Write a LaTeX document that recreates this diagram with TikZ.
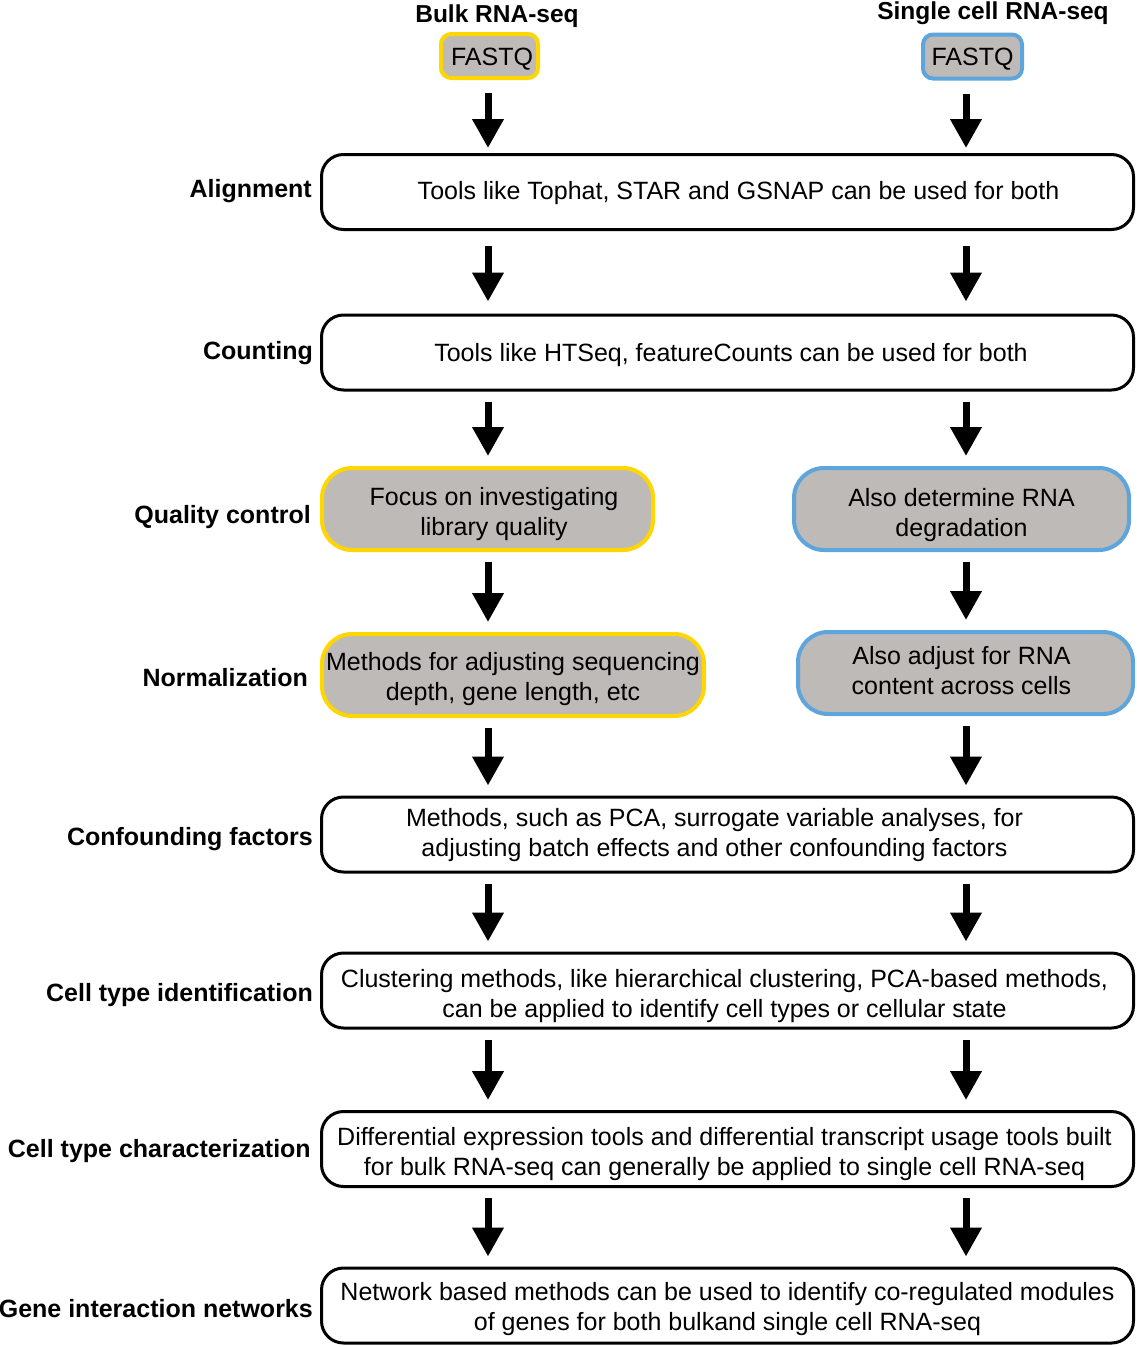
\documentclass[tikz,border=0pt]{standalone}
\usepackage{fontspec}
\setmainfont{Liberation Sans}
\usetikzlibrary{arrows.meta,calc}
\definecolor{boxgray}{RGB}{190,186,184}
\definecolor{bulkyellow}{RGB}{255,214,0}
\definecolor{scblue}{RGB}{93,165,218}
% #1 = horizontal offset (twice the visual shift), #2 = vertical shift, #3 = lines
\newcommand{\boxtext}[3]{\raisebox{#2}[\height][\depth]{\hspace*{#1}\begin{tabular}{@{}c@{}}#3\end{tabular}}}
\begin{document}
\begin{tikzpicture}[x=1pt,y=-1pt,
  every node/.style={font=\fontsize{25}{30}\selectfont},
  mainbox/.style={draw=black,line width=3pt,rounded corners=22pt,minimum width=812pt,minimum height=75pt,align=center,inner sep=0pt},
  bulkbox/.style={draw=bulkyellow,fill=boxgray,line width=4pt,rounded corners=30pt,minimum height=82pt,align=center,inner sep=0pt},
  scbox/.style={draw=scblue,fill=boxgray,line width=4pt,rounded corners=30pt,minimum height=82pt,align=center,inner sep=0pt},
  fastq/.style={fill=boxgray,line width=4pt,rounded corners=10pt,minimum height=44pt,inner sep=0pt},
  steplabel/.style={anchor=east,font=\fontsize{25}{30}\selectfont\bfseries,inner sep=0pt},
  coltitle/.style={font=\fontsize{24.5}{30}\selectfont\bfseries,inner sep=0pt},
  arr/.style={line width=7pt,-{Triangle[width=30pt,length=29pt]},shorten <=10pt,shorten >=10pt}
]
\useasboundingbox (0,0) rectangle (1137,1347);
\coordinate (colL) at (488,0);
\coordinate (colR) at (966,0);

% column titles
\node[coltitle] (tL) at (497,16) {Bulk RNA-seq};
\node[coltitle] (tR) at (993,13) {Single cell RNA-seq};

% FASTQ
\node[fastq,draw=bulkyellow,minimum width=97pt] (fqL) at (489.5,56) {\boxtext{5pt}{-3pt}{FASTQ}};
\node[fastq,draw=scblue,minimum width=99pt] (fqR) at (972.5,56.5) {\boxtext{0pt}{-3pt}{FASTQ}};

% main boxes
\node[mainbox] (align) at (727.5,192) {\boxtext{22pt}{-1pt}{Tools like Tophat, STAR and GSNAP can be used for both}};
\node[mainbox] (count) at (727.5,352.5) {\boxtext{7pt}{-3pt}{Tools like HTSeq, featureCounts can be used for both}};
\node[bulkbox,minimum width=331pt] (qcL) at (487.5,509) {\boxtext{13pt}{-5pt}{Focus on investigating\\library quality}};
\node[scbox,minimum width=335pt] (qcR) at (961.5,509) {\boxtext{0pt}{-6pt}{Also determine RNA\\degradation}};
\node[bulkbox,minimum width=382pt] (nL) at (513,675) {\boxtext{0pt}{-4pt}{Methods for adjusting sequencing\\depth, gene length, etc}};
\node[scbox,minimum width=335pt] (nR) at (965.5,673) {\boxtext{-8pt}{0pt}{Also adjust for RNA\\content across cells}};
\node[mainbox] (conf) at (727.5,834.5) {\boxtext{-26pt}{-1pt}{Methods, such as PCA, surrogate variable analyses, for\\adjusting batch effects and other confounding factors}};
\node[mainbox] (cti) at (727.5,990.5) {\boxtext{-6pt}{-6pt}{Clustering methods, like hierarchical clustering, PCA-based methods,\\can be applied to identify cell types or cellular state}};
\node[mainbox] (ctc) at (727.5,1149) {\boxtext{-6pt}{-5pt}{Differential expression tools and differential transcript usage tools built\\for bulk RNA-seq can generally be applied to single cell RNA-seq}};
\node[mainbox] (gin) at (727.5,1305.5) {\boxtext{0pt}{-4pt}{Network based methods can be used to identify co-regulated modules\\of genes for both bulkand single cell RNA-seq}};

% step labels
\node[steplabel] (lAlign) at (312,191) {Alignment};
\node[steplabel] (lCount) at (313,353) {Counting};
\node[steplabel] (lQC) at (311,517) {Quality control};
\node[steplabel] (lNorm) at (308,678) {Normalization};
\node[steplabel] (lConf) at (313,839) {Confounding factors};
\node[steplabel] (lCTI) at (313,995) {Cell type identification};
\node[steplabel] (lCTC) at (311,1151) {Cell type characterization};
\node[steplabel] (lGIN) at (313,1309) {Gene interaction networks};

% arrows
\draw[arr,shorten <=13pt,shorten >=5pt] (fqL.south -| colL) -- (align.north -| colL);
\draw[arr,shorten <=13pt,shorten >=5pt] (fqR.south -| colR) -- (align.north -| colR);
\draw[arr,shorten <=15pt,shorten >=12pt] (align.south -| colL) -- (count.north -| colL);
\draw[arr,shorten <=15pt,shorten >=12pt] (align.south -| colR) -- (count.north -| colR);
\draw[arr] (count.south -| colL) -- (qcL.north -| colL);
\draw[arr] (count.south -| colR) -- (qcR.north -| colR);
\draw[arr] (qcL.south -| colL) -- (nL.north -| colL);
\draw[arr] (qcR.south -| colR) -- (nR.north -| colR);
\draw[arr] (nL.south -| colL) -- (conf.north -| colL);
\draw[arr] (nR.south -| colR) -- (conf.north -| colR);
\draw[arr] (conf.south -| colL) -- (cti.north -| colL);
\draw[arr] (conf.south -| colR) -- (cti.north -| colR);
\draw[arr] (cti.south -| colL) -- (ctc.north -| colL);
\draw[arr] (cti.south -| colR) -- (ctc.north -| colR);
\draw[arr] (ctc.south -| colL) -- (gin.north -| colL);
\draw[arr] (ctc.south -| colR) -- (gin.north -| colR);
\end{tikzpicture}
\end{document}
